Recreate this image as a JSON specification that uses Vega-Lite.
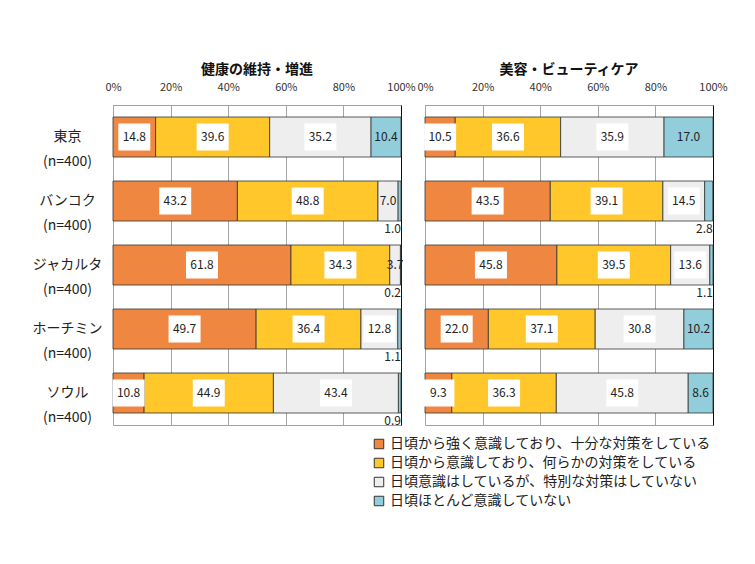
{
  "$schema": "https://vega.github.io/schema/vega-lite/v6.json",
  "padding": {"left": 32, "top": 63, "right": 5, "bottom": 5},
  "background": "white",
  "config": {
    "font": "Noto Sans CJK JP",
    "view": {"stroke": "#A0A0A0", "strokeWidth": 1}
  },
  "data": {"values": [
    {"panel": "健康の維持・増進", "city": "東京\n(n=400)", "k": 1, "cat": "日頃から強く意識しており、十分な対策をしている", "v": 14.8},
    {"panel": "健康の維持・増進", "city": "東京\n(n=400)", "k": 2, "cat": "日頃から意識しており、何らかの対策をしている", "v": 39.6},
    {"panel": "健康の維持・増進", "city": "東京\n(n=400)", "k": 3, "cat": "日頃意識はしているが、特別な対策はしていない", "v": 35.2},
    {"panel": "健康の維持・増進", "city": "東京\n(n=400)", "k": 4, "cat": "日頃ほとんど意識していない", "v": 10.4},
    {"panel": "健康の維持・増進", "city": "バンコク\n(n=400)", "k": 1, "cat": "日頃から強く意識しており、十分な対策をしている", "v": 43.2},
    {"panel": "健康の維持・増進", "city": "バンコク\n(n=400)", "k": 2, "cat": "日頃から意識しており、何らかの対策をしている", "v": 48.8},
    {"panel": "健康の維持・増進", "city": "バンコク\n(n=400)", "k": 3, "cat": "日頃意識はしているが、特別な対策はしていない", "v": 7.0},
    {"panel": "健康の維持・増進", "city": "バンコク\n(n=400)", "k": 4, "cat": "日頃ほとんど意識していない", "v": 1.0},
    {"panel": "健康の維持・増進", "city": "ジャカルタ\n(n=400)", "k": 1, "cat": "日頃から強く意識しており、十分な対策をしている", "v": 61.8},
    {"panel": "健康の維持・増進", "city": "ジャカルタ\n(n=400)", "k": 2, "cat": "日頃から意識しており、何らかの対策をしている", "v": 34.3},
    {"panel": "健康の維持・増進", "city": "ジャカルタ\n(n=400)", "k": 3, "cat": "日頃意識はしているが、特別な対策はしていない", "v": 3.7},
    {"panel": "健康の維持・増進", "city": "ジャカルタ\n(n=400)", "k": 4, "cat": "日頃ほとんど意識していない", "v": 0.2},
    {"panel": "健康の維持・増進", "city": "ホーチミン\n(n=400)", "k": 1, "cat": "日頃から強く意識しており、十分な対策をしている", "v": 49.7},
    {"panel": "健康の維持・増進", "city": "ホーチミン\n(n=400)", "k": 2, "cat": "日頃から意識しており、何らかの対策をしている", "v": 36.4},
    {"panel": "健康の維持・増進", "city": "ホーチミン\n(n=400)", "k": 3, "cat": "日頃意識はしているが、特別な対策はしていない", "v": 12.8},
    {"panel": "健康の維持・増進", "city": "ホーチミン\n(n=400)", "k": 4, "cat": "日頃ほとんど意識していない", "v": 1.1},
    {"panel": "健康の維持・増進", "city": "ソウル\n(n=400)", "k": 1, "cat": "日頃から強く意識しており、十分な対策をしている", "v": 10.8},
    {"panel": "健康の維持・増進", "city": "ソウル\n(n=400)", "k": 2, "cat": "日頃から意識しており、何らかの対策をしている", "v": 44.9},
    {"panel": "健康の維持・増進", "city": "ソウル\n(n=400)", "k": 3, "cat": "日頃意識はしているが、特別な対策はしていない", "v": 43.4},
    {"panel": "健康の維持・増進", "city": "ソウル\n(n=400)", "k": 4, "cat": "日頃ほとんど意識していない", "v": 0.9},
    {"panel": "美容・ビューティケア", "city": "東京\n(n=400)", "k": 1, "cat": "日頃から強く意識しており、十分な対策をしている", "v": 10.5},
    {"panel": "美容・ビューティケア", "city": "東京\n(n=400)", "k": 2, "cat": "日頃から意識しており、何らかの対策をしている", "v": 36.6},
    {"panel": "美容・ビューティケア", "city": "東京\n(n=400)", "k": 3, "cat": "日頃意識はしているが、特別な対策はしていない", "v": 35.9},
    {"panel": "美容・ビューティケア", "city": "東京\n(n=400)", "k": 4, "cat": "日頃ほとんど意識していない", "v": 17.0},
    {"panel": "美容・ビューティケア", "city": "バンコク\n(n=400)", "k": 1, "cat": "日頃から強く意識しており、十分な対策をしている", "v": 43.5},
    {"panel": "美容・ビューティケア", "city": "バンコク\n(n=400)", "k": 2, "cat": "日頃から意識しており、何らかの対策をしている", "v": 39.1},
    {"panel": "美容・ビューティケア", "city": "バンコク\n(n=400)", "k": 3, "cat": "日頃意識はしているが、特別な対策はしていない", "v": 14.5},
    {"panel": "美容・ビューティケア", "city": "バンコク\n(n=400)", "k": 4, "cat": "日頃ほとんど意識していない", "v": 2.8},
    {"panel": "美容・ビューティケア", "city": "ジャカルタ\n(n=400)", "k": 1, "cat": "日頃から強く意識しており、十分な対策をしている", "v": 45.8},
    {"panel": "美容・ビューティケア", "city": "ジャカルタ\n(n=400)", "k": 2, "cat": "日頃から意識しており、何らかの対策をしている", "v": 39.5},
    {"panel": "美容・ビューティケア", "city": "ジャカルタ\n(n=400)", "k": 3, "cat": "日頃意識はしているが、特別な対策はしていない", "v": 13.6},
    {"panel": "美容・ビューティケア", "city": "ジャカルタ\n(n=400)", "k": 4, "cat": "日頃ほとんど意識していない", "v": 1.1},
    {"panel": "美容・ビューティケア", "city": "ホーチミン\n(n=400)", "k": 1, "cat": "日頃から強く意識しており、十分な対策をしている", "v": 22.0},
    {"panel": "美容・ビューティケア", "city": "ホーチミン\n(n=400)", "k": 2, "cat": "日頃から意識しており、何らかの対策をしている", "v": 37.1},
    {"panel": "美容・ビューティケア", "city": "ホーチミン\n(n=400)", "k": 3, "cat": "日頃意識はしているが、特別な対策はしていない", "v": 30.8},
    {"panel": "美容・ビューティケア", "city": "ホーチミン\n(n=400)", "k": 4, "cat": "日頃ほとんど意識していない", "v": 10.2},
    {"panel": "美容・ビューティケア", "city": "ソウル\n(n=400)", "k": 1, "cat": "日頃から強く意識しており、十分な対策をしている", "v": 9.3},
    {"panel": "美容・ビューティケア", "city": "ソウル\n(n=400)", "k": 2, "cat": "日頃から意識しており、何らかの対策をしている", "v": 36.3},
    {"panel": "美容・ビューティケア", "city": "ソウル\n(n=400)", "k": 3, "cat": "日頃意識はしているが、特別な対策はしていない", "v": 45.8},
    {"panel": "美容・ビューティケア", "city": "ソウル\n(n=400)", "k": 4, "cat": "日頃ほとんど意識していない", "v": 8.6}
  ]},
  "facet": {
    "column": {
      "field": "panel",
      "type": "nominal",
      "sort": ["健康の維持・増進", "美容・ビューティケア"],
      "header": {"title": null, "labelFontSize": 14, "labelFontWeight": "bold", "labelColor": "#111", "labelPadding": 4}
    }
  },
  "spacing": 17,
  "spec": {
    "width": 288,
    "height": 320,
    "encoding": {
      "y": {
        "field": "city",
        "type": "nominal",
        "sort": ["東京\n(n=400)", "バンコク\n(n=400)", "ジャカルタ\n(n=400)", "ホーチミン\n(n=400)", "ソウル\n(n=400)"],
        "scale": {"paddingInner": 0.375, "paddingOuter": 0.1875},
        "axis": {
          "title": null, "ticks": false, "tickSize": 0, "domain": false, "grid": false,
          "labelAlign": "center", "labelBaseline": "middle", "labelPadding": 45,
          "labelFontSize": 14, "labelLineHeight": 25, "labelColor": "#222",
          "labelExpr": "split(datum.label, '\\n')"
        }
      }
    },
    "layer": [
      {
        "mark": {"type": "bar", "stroke": "#333333", "strokeWidth": 0.8},
        "encoding": {
          "x": {
            "field": "v", "type": "quantitative", "stack": "zero",
            "scale": {"domain": [0, 100], "nice": false, "clamp": true},
            "axis": {
              "orient": "top", "title": null, "tickCount": 5, "ticks": false, "tickSize": 0, "domain": false,
              "grid": true, "gridColor": {"condition": {"test": "datum.value === 100", "value": "#111111"}, "value": "#A6A6A6"},
              "labelExpr": "datum.value + '%'", "labelFontSize": 11, "labelColor": "#333", "labelPadding": 12,
              "labelFlush": false, "labelOverlap": false, "labelBound": false
            }
          },
          "color": {
            "field": "cat", "type": "nominal",
            "scale": {
              "domain": ["日頃から強く意識しており、十分な対策をしている", "日頃から意識しており、何らかの対策をしている", "日頃意識はしているが、特別な対策はしていない", "日頃ほとんど意識していない"],
              "range": ["#EF8740", "#FFC72A", "#EEEEEE", "#92CDDC"]
            },
            "legend": {
              "title": null, "orient": "none", "legendX": 259, "legendY": 332, "padding": 0,
              "labelFontSize": 14, "labelColor": "#222", "labelLimit": 0,
              "symbolType": "square", "symbolSize": 90, "symbolStrokeColor": "#333", "symbolStrokeWidth": 1,
              "rowPadding": 5, "symbolOpacity": 1
            }
          },
          "order": {"field": "k"}
        }
      },
      {
        "transform": [
          {"stack": "v", "groupby": ["panel", "city"], "sort": [{"field": "k"}], "as": ["x0", "x1"]},
          {"fold": ["x0", "x1"], "as": ["edge", "pos"]},
          {"aggregate": [{"op": "mean", "field": "pos", "as": "mid"}], "groupby": ["panel", "city", "k", "v"]},
          {"filter": "datum.k <= 3 && datum.v >= 8"}
        ],
        "mark": {"type": "point", "shape": "M-1,-0.84L1,-0.84L1,0.84L-1,0.84Z", "size": 1024, "filled": true, "color": "white", "opacity": 1, "strokeWidth": 0},
        "encoding": {
          "x": {"field": "mid", "type": "quantitative", "axis": {"orient": "top", "title": null}}
        }
      },
      {
        "transform": [
          {"stack": "v", "groupby": ["panel", "city"], "sort": [{"field": "k"}], "as": ["x0", "x1"]},
          {"fold": ["x0", "x1"], "as": ["edge", "pos"]},
          {"aggregate": [{"op": "mean", "field": "pos", "as": "mid"}], "groupby": ["panel", "city", "k", "v"]},
          {"filter": "datum.v >= 3"}
        ],
        "mark": {"type": "text", "fontSize": 12, "color": "#222222", "baseline": "middle", "align": "center"},
        "encoding": {
          "x": {"field": "mid", "type": "quantitative", "axis": {"orient": "top", "title": null}},
          "text": {"field": "v", "type": "quantitative", "format": ".1f"}
        }
      },
      {
        "transform": [
          {"stack": "v", "groupby": ["panel", "city"], "sort": [{"field": "k"}], "as": ["x0", "x1"]},
          {"filter": "datum.v < 3"}
        ],
        "mark": {"type": "text", "fontSize": 12, "color": "#222222", "baseline": "middle", "align": "right", "dy": 28},
        "encoding": {
          "x": {"field": "x1", "type": "quantitative", "axis": {"orient": "top", "title": null}},
          "text": {"field": "v", "type": "quantitative", "format": ".1f"}
        }
      }
    ]
  }
}
